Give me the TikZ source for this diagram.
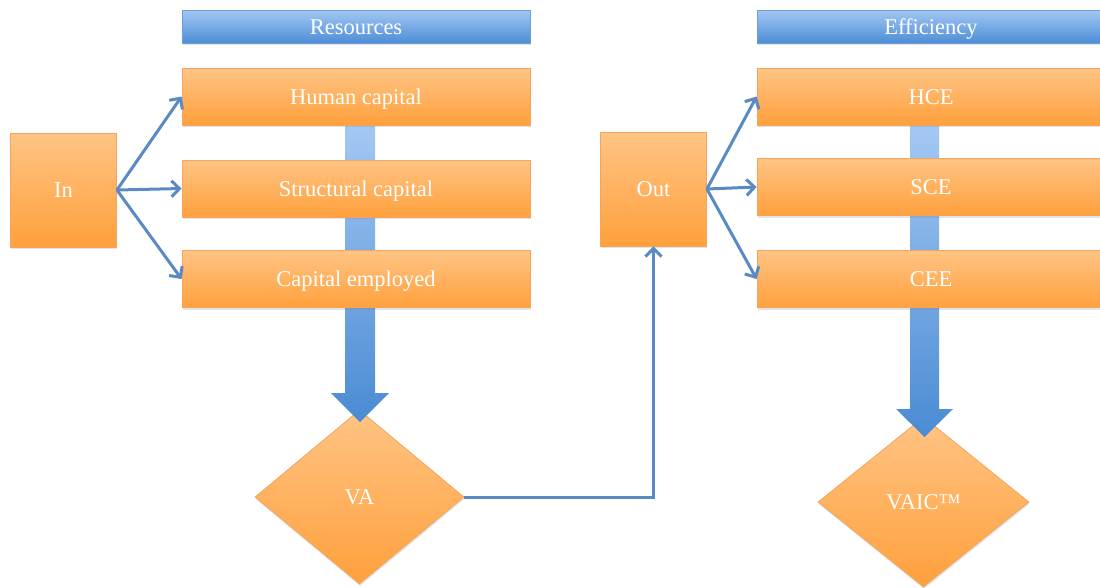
\documentclass[tikz,border=0pt]{standalone}
\usepackage{fontspec}
\setmainfont{Liberation Serif}
\usetikzlibrary{shapes.geometric,arrows.meta,shadows}
\definecolor{boxtop}{HTML}{FFC484}
\definecolor{boxbot}{HTML}{FFA03C}
\definecolor{boxline}{HTML}{F4A45E}
\definecolor{bartop}{HTML}{A2C7F3}
\definecolor{barbot}{HTML}{4E8DD6}
\definecolor{barline}{HTML}{6C9ED8}
\definecolor{flowtop}{HTML}{A8CBF5}
\definecolor{flowbot}{HTML}{4A8BD3}
\definecolor{linkblue}{HTML}{5A8AC4}
\begin{document}
\begin{tikzpicture}[x=1pt,y=-1pt,
  lbl/.style={text=white,font=\rmfamily\fontsize{22.5}{26}\selectfont,
    inner sep=0pt,text height=15pt,text depth=0pt},
  softshadow/.style={drop shadow={opacity=0.22,shadow xshift=0.5pt,shadow yshift=-2pt}},
  orangebox/.style={lbl,rectangle,draw=boxline,line width=0.8pt,
    top color=boxtop,bottom color=boxbot,softshadow},
  stage/.style={orangebox,minimum width=348pt,minimum height=57pt},
  port/.style={orangebox,minimum width=106pt,minimum height=114pt},
  headbar/.style={lbl,rectangle,draw=barline,line width=0.8pt,
    top color=bartop,bottom color=barbot,softshadow,
    minimum width=348pt,minimum height=33pt},
  gem/.style={orangebox,diamond},
  conn/.style={draw=linkblue,line width=3pt,
    -{Straight Barb[length=8pt,width=16pt,line width=3pt]}},
  flow/.style={top color=flowtop,bottom color=flowbot}]

\clip (0,0) rectangle (1100,587);

% decision diamonds (drawn first so the flow arrows overlap them)
\node[gem,minimum width=209pt,minimum height=174pt] (va) at (359.5,497) {VA};
\node[gem,minimum width=211pt,minimum height=170pt] (vaic) at (923.5,502) {VAIC™};

% broad flow arrows running behind the stacks
\shade[flow] (345,110) -- (375,110) -- (375,393) -- (389,393) -- (360,422)
  -- (331,393) -- (345,393) -- cycle;
\shade[flow] (910,110) -- (939,110) -- (939,409) -- (953,409) -- (924.5,437)
  -- (896,409) -- (910,409) -- cycle;

% left column: resources
\node[headbar] (res) at (356,26.5) {Resources};
\node[stage] (hc) at (356,96.5) {Human capital};
\node[stage] (sc) at (356,188.5) {Structural capital};
\node[stage] (ce) at (356,279) {Capital employed};
\node[port] (in) at (63.5,190) {In};

% right column: efficiency
\node[headbar] (eff) at (931,26.5) {Efficiency};
\node[stage] (hce) at (931,96.5) {HCE};
\node[stage] (sce) at (931,187) {SCE};
\node[stage] (cee) at (931,279) {CEE};
\node[port] (out) at (653.5,189) {Out};

% connectors
\draw[conn] (in.east) -- (hc.west);
\draw[conn] (in.east) -- (sc.west);
\draw[conn] (in.east) -- (ce.west);
\draw[conn] (out.east) -- (hce.west);
\draw[conn] (out.east) -- (sce.west);
\draw[conn] (out.east) -- (cee.west);
\draw[conn] (va.east) -| (out.south);
\end{tikzpicture}
\end{document}
